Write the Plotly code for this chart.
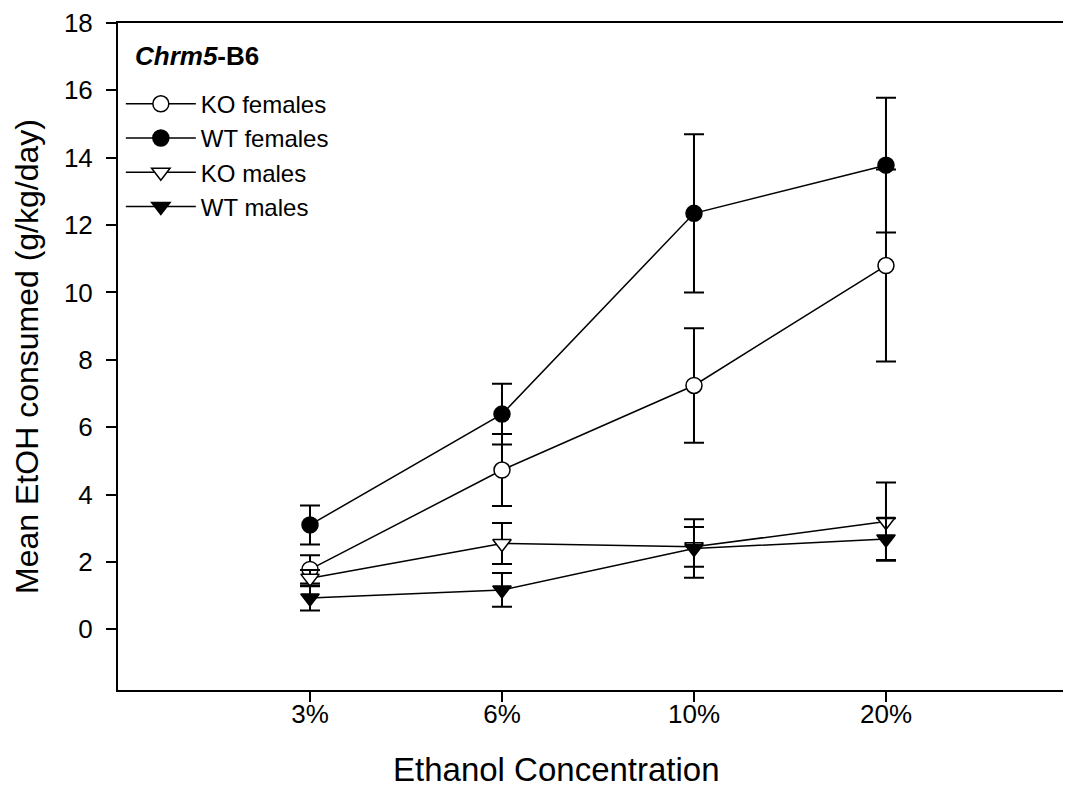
import plotly.graph_objects as go

categories = ["3%", "6%", "10%", "20%"]
xpos = [1, 2, 3, 4]

ko_fem = [1.78, 4.73, 7.24, 10.80]
ko_fem_err = [0.42, 1.07, 1.70, 2.85]
wt_fem = [3.10, 6.39, 12.35, 13.78]
wt_fem_err = [0.58, 0.90, 2.35, 2.00]
ko_male = [1.52, 2.55, 2.45, 3.20]
ko_male_err = [0.24, 0.61, 0.59, 1.16]
wt_male = [0.93, 1.17, 2.40, 2.68]
wt_male_err = [0.37, 0.50, 0.87, 0.62]

series = [
    ("KO females", ko_fem, ko_fem_err, "circle", "white"),
    ("WT females", wt_fem, wt_fem_err, "circle", "black"),
    ("KO males", ko_male, ko_male_err, "triangle-down", "white"),
    ("WT males", wt_male, wt_male_err, "triangle-down", "black"),
]

fig = go.Figure()
for i, (name, vals, errs, sym, fill) in enumerate(series):
    fig.add_trace(go.Scatter(
        x=xpos, y=vals, name=name, mode="lines+markers",
        legendgroup=f"g{i}",
        line=dict(color="black", width=1.5),
        marker=dict(symbol=sym, size=16, color=fill,
                    line=dict(color="black", width=1.5)),
        error_y=dict(type="data", array=errs, visible=True,
                     color="black", thickness=2, width=10),
    ))

fig.update_layout(
    width=1055, height=786,
    margin=dict(l=110, r=0, t=9, b=104),
    plot_bgcolor="white", paper_bgcolor="white",
    font=dict(family="Liberation Sans, Arial, sans-serif", color="black", size=24),
    showlegend=True,
    legend=dict(x=0.003, y=0.912, xanchor="left", yanchor="top",
                font=dict(size=24), bgcolor="rgba(0,0,0,0)",
                tracegroupgap=0, itemwidth=70),
    xaxis=dict(range=[0, 4.922], tickvals=xpos, ticktext=categories,
               showline=True, linecolor="black", linewidth=2, mirror=True,
               ticks="outside", ticklen=10, tickwidth=2, tickcolor="black",
               showgrid=False, zeroline=False,
               tickfont=dict(size=26), ticklabelstandoff=-10),
    yaxis=dict(range=[-1.8, 18], tickvals=list(range(0, 19, 2)),
               showline=True, linecolor="black", linewidth=2,
               ticks="outside", ticklen=10, tickwidth=2, tickcolor="black",
               showgrid=False, zeroline=False, ticklabeloverflow="allow",
               tickfont=dict(size=26), ticklabelstandoff=8,
               title=dict(text="Mean EtOH consumed (g/kg/day)", font=dict(size=32), standoff=16)),
)

fig.add_annotation(
    xref="paper", yref="paper", x=0.016, y=0.951, xanchor="left", yanchor="middle",
    text="<b><i>Chrm5</i>-B6</b>", showarrow=False, font=dict(size=26),
)
fig.add_annotation(
    xref="paper", yref="paper", x=0.4635, y=-0.1189, xanchor="center", yanchor="middle",
    text="Ethanol Concentration", showarrow=False, font=dict(size=33),
)

fig.write_html("out.html")
